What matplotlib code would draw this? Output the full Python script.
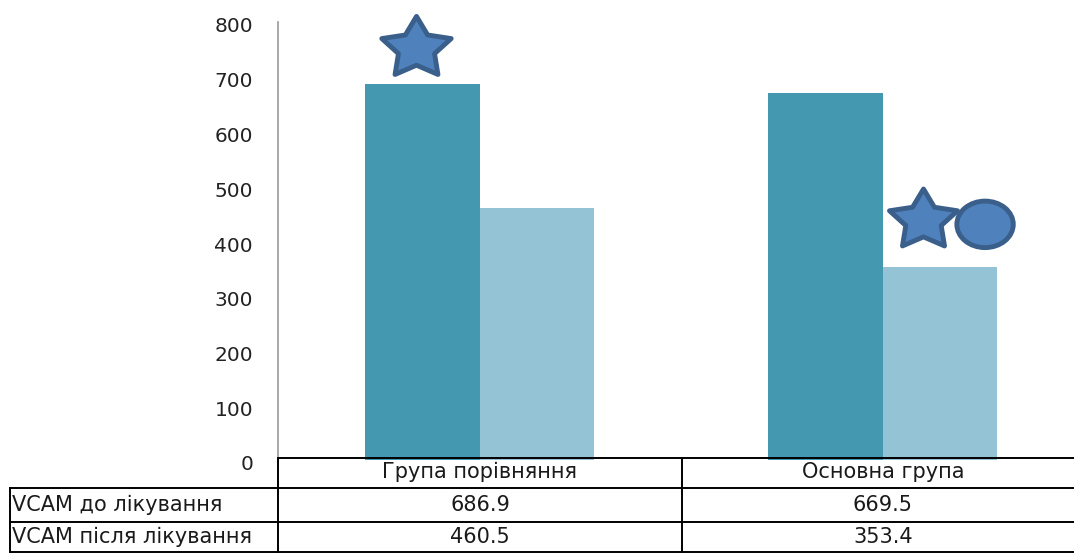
import matplotlib.pyplot as plt
import matplotlib.path as mpath
import matplotlib.transforms as mtransforms
from matplotlib.patches import Ellipse
from matplotlib.lines import Line2D
import numpy as np

# data
groups = ['Група порівняння', 'Основна група']
series_names = ['VCAM до лікування', 'VCAM після лікування']
before = [686.9, 669.5]
after = [460.5, 353.4]
yticks = [0, 100, 200, 300, 400, 500, 600, 700, 800]

dark = '#4499B0'
light = '#93C3D4'
mark_face = '#4F81BD'
mark_edge = '#3A5F8B'

fig = plt.figure(figsize=(10.74, 5.53), dpi=100)
W, H = 1074, 553

def fx(px):
    return px / W

def fy(py):
    return 1 - py / H

# axes spans the two table columns (right edge runs past the figure)
ax_left, ax_right, ax_top, ax_bottom = 278, 1084, 22, 460
ax = fig.add_axes([fx(ax_left), fy(ax_bottom), fx(ax_right - ax_left), (ax_bottom - ax_top) / H])

x = np.arange(len(groups))
w = 0.285
ax.bar(x - w / 2, before, w, color=dark)
ax.bar(x + w / 2, after, w, color=light)
ax.set_xlim(-0.5, 1.5)
ax.set_ylim(0, 800)
ax.set_yticks(yticks)
ax.tick_params(axis='y', length=0, pad=18, labelsize=14.5, labelcolor='#222222')
shift = mtransforms.ScaledTranslation(0, -3 / 100, fig.dpi_scale_trans)
for lab in ax.get_yticklabels():
    lab.set_transform(lab.get_transform() + shift)
ax.set_xticks([])
for s in ['top', 'right', 'bottom']:
    ax.spines[s].set_visible(False)
ax.spines['left'].set_color('#999999')
ax.spines['left'].set_linewidth(1.2)

# significance marks (Office-style five point star, a bit squat)
base = mpath.Path.unit_regular_star(5, innerCircle=0.52)
star = mpath.Path(base.vertices * [1.0, 0.88], base.codes)
ax.plot(x[0] - w / 2 - 0.016, before[0] + 66, marker=star, markersize=50,
        markerfacecolor=mark_face, markeredgecolor=mark_edge, markeredgewidth=3.5, clip_on=False)
ax.plot(x[1] + w / 2 - 0.042, after[1] + 85, marker=star, markersize=49,
        markerfacecolor=mark_face, markeredgecolor=mark_edge, markeredgewidth=3.5, clip_on=False)
ax.add_patch(Ellipse((x[1] + w / 2 + 0.112, after[1] + 77), 0.14, 85,
                     facecolor=mark_face, edgecolor=mark_edge, linewidth=3.5, clip_on=False))

# data table below the axis
row_y = [458, 488, 522, 552]
col_x = [10, 278, 682, W]
lw = 1.4

def hline(y, x0, x1):
    fig.add_artist(Line2D([fx(x0), fx(x1)], [fy(y), fy(y)], color='black', lw=lw))

def vline(xp, y0, y1):
    fig.add_artist(Line2D([fx(xp), fx(xp)], [fy(y0), fy(y1)], color='black', lw=lw))

hline(row_y[0], col_x[1], W)
hline(row_y[1], col_x[0], W)
hline(row_y[2], col_x[0], W)
hline(row_y[3], col_x[0], W)
vline(col_x[0], row_y[1], row_y[3])
vline(col_x[1], row_y[0], row_y[3])
vline(col_x[2], row_y[0], row_y[3])

tfont = dict(family='DejaVu Sans', fontsize=15, color='#1a1a1a')
centers = [(ax_left + 682) / 2, (682 + ax_right) / 2]
for i, g in enumerate(groups):
    fig.text(fx(centers[i]), fy((row_y[0] + row_y[1]) / 2 - 1), g, ha='center', va='center', **tfont)
for r, (name, vals) in enumerate(zip(series_names, [before, after])):
    yc = (row_y[r + 1] + row_y[r + 2]) / 2
    fig.text(fx(col_x[0] + 2), fy(yc), name, ha='left', va='center', **tfont)
    for i, v in enumerate(vals):
        fig.text(fx(centers[i]), fy(yc), f'{v:.1f}', ha='center', va='center', **tfont)

fig.savefig('out.png', dpi=100)
